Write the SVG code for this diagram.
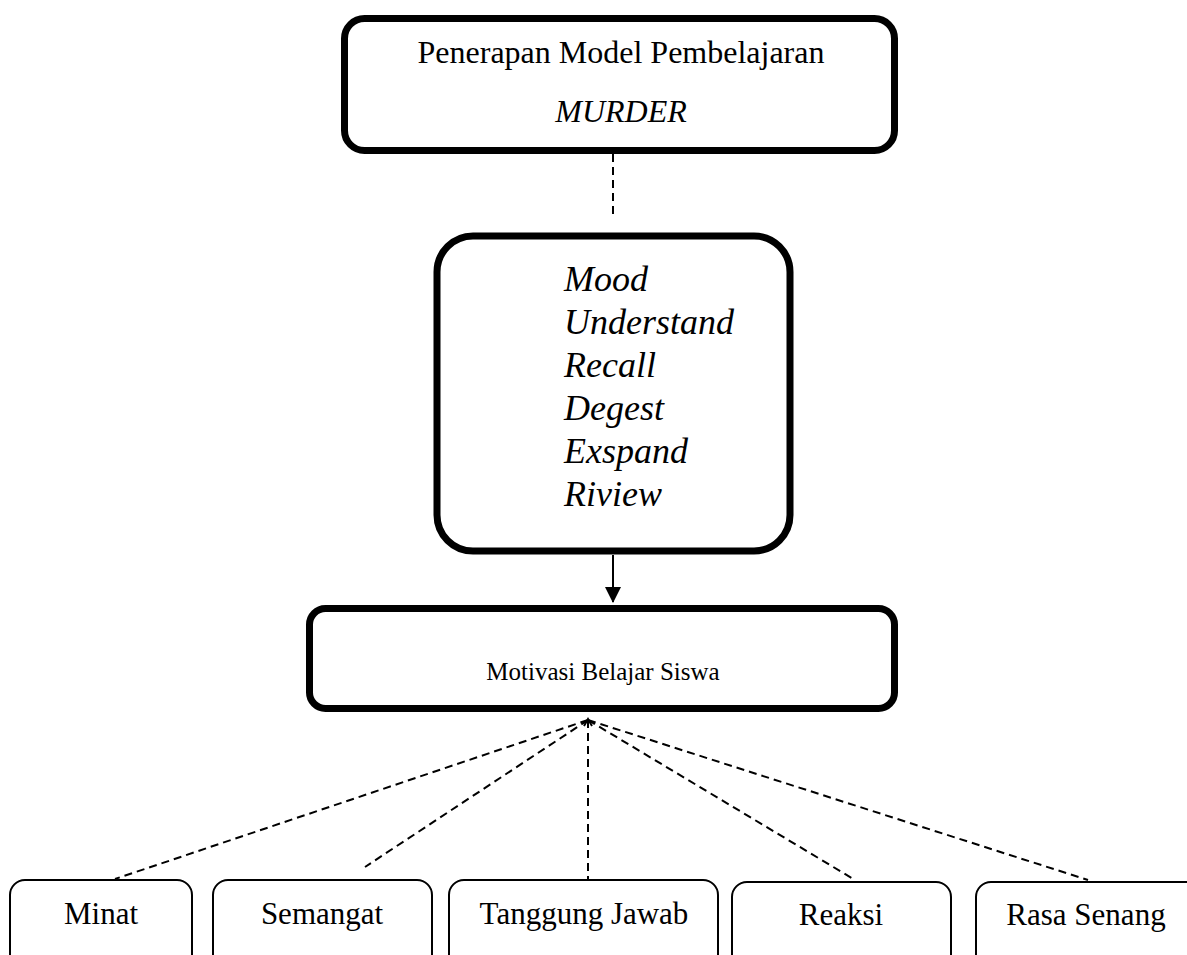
<svg xmlns="http://www.w3.org/2000/svg" width="1187" height="955" viewBox="0 0 1187 955">
<style>
.bold{fill:#fff;stroke:#000;stroke-width:7}
.thin{fill:#fff;stroke:#000;stroke-width:2}
.t{font-family:"Liberation Serif","Times New Roman",serif;fill:#000}
.dash{stroke:#000;stroke-width:2;stroke-dasharray:8,5;fill:none}
</style>
<defs>
<marker id="ah" markerWidth="16" markerHeight="16" refX="15" refY="8" orient="auto" markerUnits="userSpaceOnUse">
<path d="M0,0 L16,8 L0,16 z" fill="#000"/>
</marker>
</defs>
<rect width="1187" height="955" fill="#fff"/>
<g id="connectors">
<line class="dash" x1="613" y1="154" x2="613" y2="218"/>
<line x1="613" y1="555" x2="613" y2="602" stroke="#000" stroke-width="2" marker-end="url(#ah)"/>
<line class="dash" x1="588" y1="720" x2="115" y2="879"/>
<line class="dash" x1="588" y1="720" x2="365" y2="867"/>
<line class="dash" x1="588" y1="720" x2="588" y2="880"/>
<line class="dash" x1="588" y1="720" x2="855" y2="880"/>
<line class="dash" x1="588" y1="720" x2="1088" y2="880"/>
<polyline points="584,726 588,719 592,726" fill="none" stroke="#000" stroke-width="2"/>
</g>
<g id="node-penerapan">
<rect class="bold" x="344.5" y="18.5" width="550" height="132" rx="20"/>
<text class="t" x="621" y="63" font-size="32" text-anchor="middle">Penerapan Model Pembelajaran</text>
<text class="t" x="621" y="122" font-size="32" font-style="italic" text-anchor="middle">MURDER</text>
</g>
<g id="node-murder">
<rect class="bold" x="437" y="236" width="353" height="315" rx="36"/>
<text class="t" font-size="36" font-style="italic">
<tspan x="564" y="291">Mood</tspan>
<tspan x="564" y="334">Understand</tspan>
<tspan x="564" y="377">Recall</tspan>
<tspan x="564" y="420">Degest</tspan>
<tspan x="564" y="463">Exspand</tspan>
<tspan x="564" y="506">Riview</tspan>
</text>
</g>
<g id="node-motivasi">
<rect class="bold" x="309.5" y="608.5" width="585" height="100" rx="16"/>
<text class="t" x="603" y="680" font-size="25" text-anchor="middle">Motivasi Belajar Siswa</text>
</g>
<g id="node-minat">
<rect class="thin" x="10" y="880" width="182" height="95" rx="15"/>
<text class="t" x="101" y="924" font-size="31" text-anchor="middle">Minat</text>
</g>
<g id="node-semangat">
<rect class="thin" x="213" y="880" width="219" height="95" rx="15"/>
<text class="t" x="322" y="924" font-size="31" text-anchor="middle">Semangat</text>
</g>
<g id="node-tanggung">
<rect class="thin" x="449" y="880" width="269" height="95" rx="15"/>
<text class="t" x="584" y="924" font-size="31" text-anchor="middle">Tanggung Jawab</text>
</g>
<g id="node-reaksi">
<rect class="thin" x="732" y="882" width="219" height="95" rx="15"/>
<text class="t" x="841" y="925" font-size="31" text-anchor="middle">Reaksi</text>
</g>
<g id="node-rasa">
<rect class="thin" x="976" y="882" width="225" height="95" rx="15"/>
<text class="t" x="1086" y="925" font-size="31" text-anchor="middle">Rasa Senang</text>
</g>
</svg>
